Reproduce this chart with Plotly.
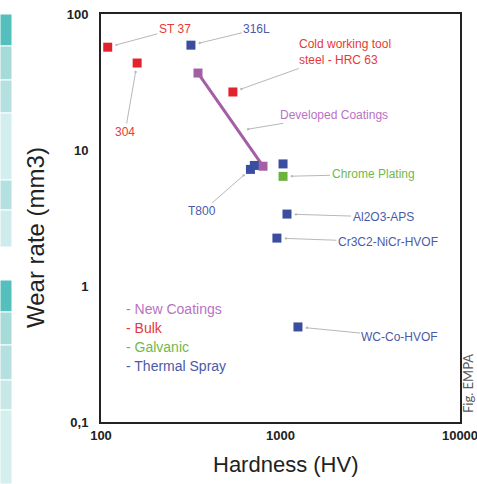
import math
import plotly.graph_objects as go

# ---------------- data ----------------
bulk_names = ["ST 37", "304", "Cold working tool<br>steel - HRC 63"]
bulk_hv = [109, 159, 543]
bulk_wear = [57, 43.6, 26.7]

thermal_names = ["316L", "T800", "", "", "Al2O3-APS", "Cr3C2-NiCr-HVOF", "WC-Co-HVOF"]
thermal_hv = [317, 680, 715, 1033, 1087, 955, 1251]
thermal_wear = [59, 7.2, 7.7, 7.9, 3.38, 2.25, 0.5]

galvanic_names = ["Chrome Plating"]
galvanic_hv = [1033]
galvanic_wear = [6.4]

coating_name = "Developed Coatings"
coating_hv = [347, 799]
coating_wear = [36.8, 7.6]

legend_items = ["- New Coatings", "- Bulk", "- Galvanic", "- Thermal Spray"]

y_tickvals = [0.1, 1, 10, 100]
y_ticktext = ["0,1", "1", "10", "100"]
x_tickvals = [100, 1000, 10000]
x_ticktext = ["100", "1000", "10000"]

# ---------------- styles ----------------
RED, RED_T = "#e3232c", "#e53a36"
BLUE, BLUE_T = "#3a4d9e", "#4b5aa8"
PURPLE, PURPLE_T = "#a45ea6", "#b872c4"
GREEN, GREEN_T = "#6cb23c", "#72b84a"
LEADER = "#b8b8b8"
W = 359.0   # plot width in px
H = 408.0   # plot height in px

fig = go.Figure()

fig.add_trace(go.Scatter(x=coating_hv, y=coating_wear, mode="lines+markers",
                         line=dict(color=PURPLE, width=3),
                         marker=dict(symbol="square", size=9, color=PURPLE),
                         hoverinfo="skip", showlegend=False))
fig.add_trace(go.Scatter(x=bulk_hv, y=bulk_wear, mode="markers",
                         marker=dict(symbol="square", size=9, color=RED),
                         showlegend=False))
fig.add_trace(go.Scatter(x=thermal_hv, y=thermal_wear, mode="markers",
                         marker=dict(symbol="square", size=9, color=BLUE),
                         showlegend=False))
fig.add_trace(go.Scatter(x=galvanic_hv, y=galvanic_wear, mode="markers",
                         marker=dict(symbol="square", size=9, color=GREEN),
                         showlegend=False))

LABEL_FONT = "Liberation Sans Narrow, Liberation Sans, Arial, sans-serif"


def label(x, y, text, color, ax, ay, standoff=9, align="center"):
    fig.add_annotation(x=math.log10(x), y=math.log10(y), xref="x", yref="y",
                       text=text, showarrow=True, ax=ax, ay=ay, align=align,
                       arrowhead=6, arrowsize=0.6, arrowwidth=1,
                       arrowcolor=LEADER, standoff=standoff, startstandoff=0,
                       font=dict(family=LABEL_FONT, size=12, color=color))


bulk_offsets = [(67, -18), (-12, 69), (112, -40)]
bulk_align = ["center", "center", "left"]
for n, xv, yv, (ax, ay), al in zip(bulk_names, bulk_hv, bulk_wear, bulk_offsets, bulk_align):
    label(xv, yv, n, RED_T, ax, ay, align=al)

thermal_offsets = [(66, -16), (-48, 42), None, None, (96, 3), (111, 4), (102, 10)]
for n, xv, yv, off in zip(thermal_names, thermal_hv, thermal_wear, thermal_offsets):
    if off and n:
        label(xv, yv, n, BLUE_T, off[0], off[1])

label(galvanic_hv[0], galvanic_wear[0], galvanic_names[0], GREEN_T, 90, -2)

# anchor of the "Developed Coatings" leader: a point along the coating line
t = 0.62
cx = 10 ** (math.log10(coating_hv[0]) + t * (math.log10(coating_hv[1]) - math.log10(coating_hv[0])))
cy = 10 ** (math.log10(coating_wear[0]) + t * (math.log10(coating_wear[1]) - math.log10(coating_wear[0])))
label(cx, cy, coating_name, PURPLE_T, 96, -16, standoff=10)

# text legend inside the plot
leg_colors = [PURPLE_T, RED_T, GREEN_T, BLUE_T]
for i, (txt, c) in enumerate(zip(legend_items, leg_colors)):
    fig.add_annotation(x=(124 - 101) / W, y=(422 - 309 - i * 19) / H, xref="paper", yref="paper",
                       text=txt, showarrow=False, xanchor="left", yanchor="middle",
                       font=dict(family=LABEL_FONT, size=14, color=c))

# axis titles
fig.add_annotation(x=(35 - 101) / W, y=(422 - 238) / H, xref="paper", yref="paper",
                   text="Wear rate (mm3)", textangle=-90, showarrow=False,
                   xanchor="center", yanchor="middle",
                   font=dict(family="Liberation Sans, Arial, sans-serif", size=24, color="#222222"))
fig.add_annotation(x=(285 - 101) / W, y=(422 - 464) / H, xref="paper", yref="paper",
                   text="Hardness (HV)", showarrow=False,
                   xanchor="center", yanchor="middle",
                   font=dict(family="Liberation Sans, Arial, sans-serif", size=22, color="#222222"))

# credit
fig.add_annotation(x=(468 - 101) / W, y=(422 - 384) / H, xref="paper", yref="paper", text="Fig. EMPA",
                   textangle=-90, showarrow=False, xanchor="center", yanchor="middle",
                   borderpad=0,
                   font=dict(family="Lato, Liberation Sans, sans-serif", size=13, color="#5a5a5a"))

# decorative page strip on the left
def py(p):
    return (422 - p) / H
strip = [(14, 46, "#55bfbd"), (46, 80, "#a6dbda"), (80, 113, "#b4e1e0"),
         (113, 180, "#d3eeee"), (180, 210, "#b4e1e0"), (210, 247, "#cfebeb"),
         (280, 312, "#55bfbd"), (312, 345, "#a6dbda"), (345, 380, "#b4e1e0"),
         (380, 410, "#c8e8e8"), (410, 484, "#d5eeee")]
for y0, y1, c in strip:
    fig.add_shape(type="rect", xref="paper", yref="paper",
                  x0=(0 - 101) / W, x1=(12 - 101) / W, y0=py(y1), y1=py(y0),
                  fillcolor=c, line=dict(color="white", width=1), layer="below")

AX_FONT = dict(family="Liberation Sans, Arial, sans-serif", size=13, color="#222222", weight="bold")
fig.update_xaxes(type="log", range=[2, 4], tickvals=x_tickvals, ticktext=x_ticktext,
                 showgrid=False, zeroline=False, showline=True, mirror="all",
                 linecolor="#222222", linewidth=2, ticks="",
                 automargin=False, ticklabeloverflow="allow", tickfont=AX_FONT)
fig.update_yaxes(type="log", range=[-1, 2], tickvals=y_tickvals, ticktext=y_ticktext,
                 showgrid=False, zeroline=False, showline=True, mirror="all",
                 linecolor="#222222", linewidth=2, ticks="",
                 automargin=False, ticklabelstandoff=8, tickfont=AX_FONT)

fig.update_layout(width=477, height=484, margin=dict(l=101, r=17, t=14, b=62, autoexpand=False),
                  paper_bgcolor="white", plot_bgcolor="white", showlegend=False)

fig.write_html("out.html", config={"displayModeBar": False},
               post_script="document.body.style.margin='0';document.body.style.padding='0';")
